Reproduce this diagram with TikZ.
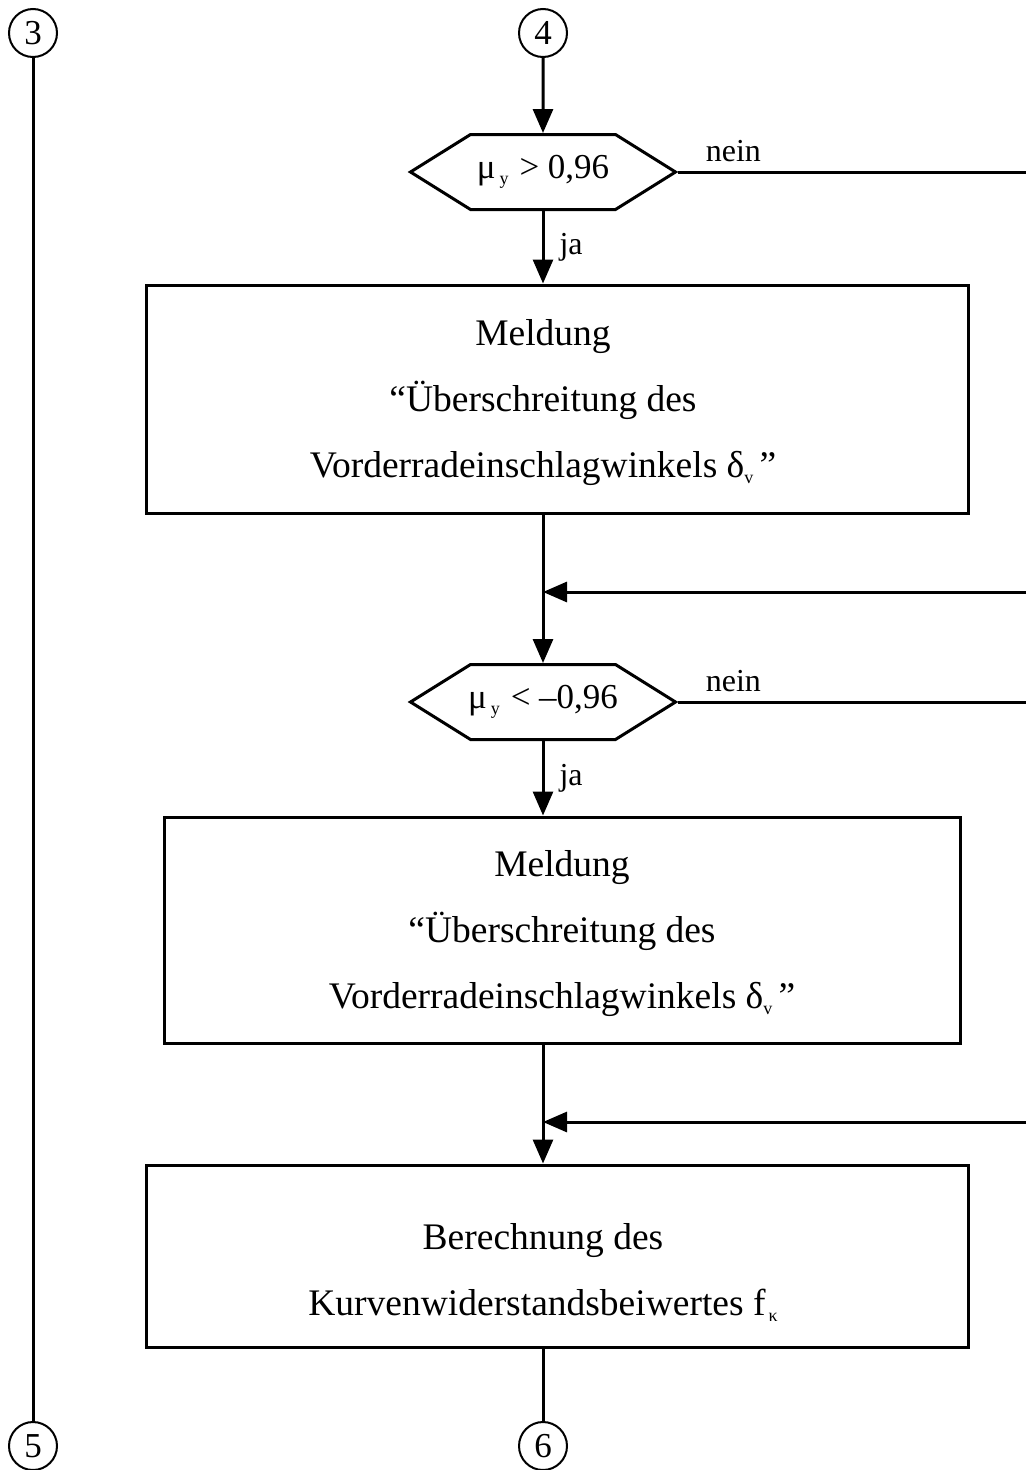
\documentclass[tikz,border=0pt]{standalone}
\usepackage{fontspec}
\setmainfont{Liberation Serif}
\usetikzlibrary{arrows.meta, shapes.symbols}
\newcommand{\lidx}[1]{\raisebox{-6pt}{\fontsize{18}{18}\selectfont #1}}

\begin{document}
\begin{tikzpicture}[x=1pt, y=-1pt, line width=3pt,
    conn/.style={draw, circle, line width=2pt, minimum size=48pt, inner sep=0pt, font=\fontsize{35}{35}\selectfont},
    hexa/.style={draw, signal, signal to=west and east, signal pointer angle=64, minimum width=265pt, minimum height=75pt, inner xsep=-15pt, inner ysep=0pt, font=\fontsize{35}{35}\selectfont},
    block/.style={draw, rectangle, inner sep=0pt},
    txt/.style={align=center, inner sep=0pt, font=\fontsize{37.5}{66}\selectfont},
    lbl/.style={inner sep=0pt, font=\fontsize{32}{32}\selectfont},
    flow/.style={-{Triangle[length=24pt, width=20pt]}}]
    \useasboundingbox (0,0) rectangle (1026,1470);
    \node[conn] (c3) at (33,33) {3};
    \node[conn] (c4) at (543,33) {4};
    \node[conn] (c5) at (33,1446) {5};
    \node[conn] (c6) at (543,1446) {6};
    \node[hexa] (h1) at (543,172) {μ\kern4pt\lidx{y}\hspace{11pt}> 0,96};
    \node[block, minimum width=822pt, minimum height=228pt] (b1) at (557,399) {};
    \node[txt] (t1) at (543,403)
        {Meldung\\“Überschreitung des\\Vorderradeinschlagwinkels δ\lidx{v}\,”};
    \node[hexa] (h2) at (543,702) {μ\kern4pt\lidx{y}\hspace{11pt}< –0,96};
    \node[block, minimum width=796pt, minimum height=226pt] (b2) at (562,930) {};
    \node[txt] (t2) at (562,934)
        {Meldung\\“Überschreitung des\\Vorderradeinschlagwinkels δ\lidx{v}\,”};
    \node[block, minimum width=822pt, minimum height=182pt] (b3) at (557,1256) {};
    \node[txt] (t3) at (543,1272)
        {Berechnung des\\Kurvenwiderstandsbeiwertes f\kern3pt\lidx{κ}};
    \coordinate (e1) at (1026,172);
    \coordinate (e2) at (1026,592);
    \coordinate (e3) at (1026,702);
    \coordinate (e4) at (1026,1122);
    \coordinate (j1) at (543,592);
    \coordinate (j2) at (543,1122);
    \node[lbl, anchor=south west, xshift=26pt, yshift=9pt] (n1) at (h1.east) {nein};
    \node[lbl, anchor=south west, xshift=26pt, yshift=9pt] (n2) at (h2.east) {nein};
    \draw (c3) -- (c5);
    \draw[flow] (c4) -- (h1);
    \draw (h1.east) -- (e1);
    \draw[flow] (h1.south) -- node[lbl, right=15pt] (ja1) {ja} (h1.south |- b1.north);
    \draw[flow] (b1.south -| h1) -- (h2.north);
    \draw[flow] (e2) -- (j1);
    \draw (h2.east) -- (e3);
    \draw[flow] (h2.south) -- node[lbl, right=15pt] (ja2) {ja} (h2.south |- b2.north);
    \draw[flow] (b2.south -| h2) -- (b3.north -| h2);
    \draw[flow] (e4) -- (j2);
    \draw (b3.south -| c6) -- (c6);
\end{tikzpicture}
\end{document}
